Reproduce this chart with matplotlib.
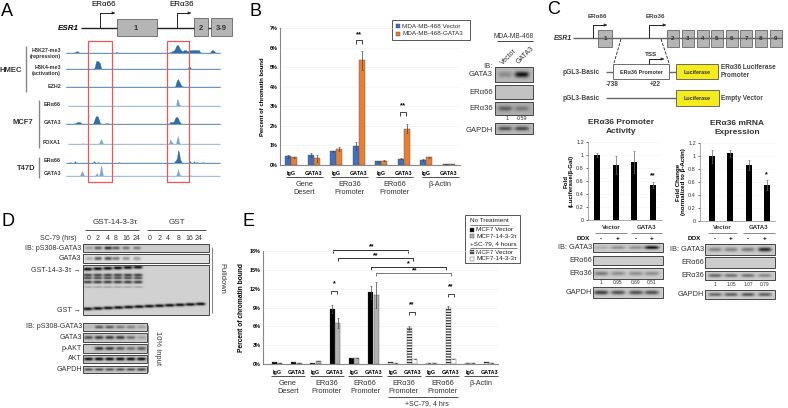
# Multi panel GATA3 / ER-alpha36 figure
import matplotlib
matplotlib.use("Agg")
import matplotlib.pyplot as plt
from matplotlib.patches import Rectangle
import numpy as np

plt.rcParams["font.family"] = ["Liberation Sans", "DejaVu Sans"]
plt.rcParams["hatch.linewidth"] = 0.9

W, H = 788, 408
BLUE, ORANGE = "#3f6fc0", "#ed7d31"
TRACK = "#2f6ea5"
DARK = "#333333"

# panel B
b_vector = [0.45, 0.53, 0.70, 0.97, 0.19, 0.32, 0.27, 0.04]
b_gata3 = [0.39, 0.34, 0.82, 5.35, 0.22, 1.85, 0.40, 0.03]
b_vector_err = [0.07, 0.10, 0.03, 0.18, 0.03, 0.03, 0.05, 0.01]
b_gata3_err = [0.03, 0.17, 0.12, 0.50, 0.03, 0.23, 0.03, 0.01]
b_groups = ["Gene\nDesert", "ER\u03b136\nPromoter", "ER\u03b166\nPromoter", "\u03b2-Actin\n"]
b_legend = ["MDA-MB-468 Vector", "MDA-MB-468-GATA3"]

# panel C bars
c1_values = [1.0, 0.85, 0.89, 0.54]
c1_err = [0.03, 0.14, 0.17, 0.05]
c2_values = [1.0, 1.04, 0.86, 0.55]
c2_err = [0.10, 0.05, 0.08, 0.08]
c1_ratio = ["1", "0.95", "0.69", "0.51"]
c2_ratio = ["1", "1.05", "1.07", "0.79"]

# panel E
e_groups = ["Gene\nDesert", "ER\u03b136\nPromoter", "ER\u03b166\nPromoter",
            "ER\u03b136\nPromoter", "ER\u03b166\nPromoter", "\u03b2-Actin\n"]
e_first = [0.25, 0.25, 0.22, 8.8, 0.9, 11.4, 0.25, 5.7, 0.22, 9.0, 0.12, 0.25]
e_second = [0.20, 0.20, 0.40, 6.5, 0.9, 11.0, 0.15, 0.75, 0.15, 0.75, 0.10, 0.20]
e_first_err = [0, 0, 0, 0.6, 0, 1.1, 0, 0.3, 0, 0.2, 0, 0]
e_second_err = [0, 0, 0, 0.8, 0, 2.0, 0, 0, 0, 0, 0, 0]
e_legend = ["MCF7 Vector", "MCF7-14-3-3\u03c4", "MCF7 Vector", "MCF7-14-3-3\u03c4"]

# panel D
d_times = ["0", "2", "4", "8", "16", "24"]
d_top = ["IB: pS308-GATA3", "GATA3"]
d_input = ["IB: pS308-GATA3", "GATA3", "p-AKT", "AKT", "GAPDH"]
d_input_darkness = [
    [0.1, 0.55, 0.55, 0.4, 0.35, 0.2],
    [0.6, 0.7, 0.7, 0.7, 0.45, 0.2],
    [0.0, 0.75, 0.7, 0.55, 0.45, 0.55],
    [0.95, 0.95, 0.95, 0.95, 0.95, 0.95],
    [0.6, 0.6, 0.6, 0.6, 0.6, 0.7],
]
d_lanes = [89, 98, 108, 116, 126, 137, 150, 160, 168, 179, 189, 199]
d_ps308 = [0.25, 0.55, 0.8, 0.55, 0.45, 0.4, 0, 0, 0, 0, 0, 0]
d_gata3 = [0.25, 0.6, 0.65, 0.45, 0.35, 0.3, 0, 0, 0, 0, 0, 0]

# panel A tracks: (pixel column, height) for the visible peaks
a_labels = ["H3K27-me3\n(repression)", "H3K4-me3\n(activation)", "EZH2",
            "ER\u03b166", "GATA3", "FOXA1", "ER\u03b166", "GATA3"]
a_label_y = [53.5, 70.5, 86, 104, 123, 143, 161, 173.5]
a_base = [53, 69, 87, 106, 124, 144, 163, 176]
a_left = [66, 66, 66, 68, 66, 68, 66, 66]
a_light = [False, False, False, True, False, True, False, True]
a_peaks = [
    [(75, 1), (76, 1.5), (77, 2), (78, 1.5), (116, 1), (117, 1), (170, 1), (171, 1), (172, 2), (173, 2),
     (174, 3), (175, 4), (176, 7), (177, 8), (178, 8), (179, 6), (180, 4), (181, 3), (182, 2), (183, 2),
     (184, 3), (185, 3), (186, 3), (187, 2), (188, 2), (189, 2), (190, 3), (191, 3), (192, 3), (193, 3),
     (194, 3), (195, 3), (196, 3), (197, 3), (198, 3), (199, 3), (200, 1), (211, 2), (212, 3), (213, 3),
     (214, 2), (215, 1)],
    [(95, 3), (96, 8), (97, 8), (98, 8), (99, 7), (100, 6), (101, 1), (188, 1), (189, 3), (190, 2)],
    [(176, 4), (177, 7), (178, 8), (179, 6), (180, 4), (181, 2), (182, 1)],
    [(177, 7), (178, 6), (179, 2), (180, 1)],
    [(75, 1), (76, 1), (77, 2), (78, 2), (79, 2), (80, 2), (81, 1), (94, 3), (95, 6), (96, 8), (97, 8), (98, 7),
     (99, 4), (100, 1), (106, 1), (107, 1), (108, 1), (170, 2), (171, 2), (172, 2), (173, 2), (174, 3),
     (175, 6), (176, 7), (177, 7), (178, 6), (179, 3), (180, 2)],
    [(83, 1), (100, 3), (101, 5), (102, 3), (170, 5), (171, 3), (172, 2), (177, 6), (178, 8), (179, 2)],
    [(70, 1), (75, 2), (94, 2), (98, 1), (119, 1), (175, 2), (176, 3), (177, 5), (178, 13), (179, 11), (180, 4),
     (181, 2), (190, 2), (194, 2), (197, 1), (203, 1)],
    [(81, 3), (82, 5), (83, 3), (96, 2), (97, 3), (100, 4), (101, 11), (102, 6), (177, 3), (178, 7), (179, 3),
     (180, 1), (190, 1)],
]


def px_ax(x0, y0, x1, y1):
    # axes placed with reference pixel box (top left origin)
    return fig.add_axes([x0 / W, 1 - y1 / H, (x1 - x0) / W, (y1 - y0) / H])


fig = plt.figure(figsize=(W / 100, H / 100), dpi=100)
bg = fig.add_axes([0, 0, 1, 1])
bg.axis("off")


def txt(x, y, s, size=5, ha="center", va="center", weight="normal", **kw):
    bg.text(x, y, s, fontsize=size, ha=ha, va=va, fontweight=weight, **kw)


def line(xs, ys, color="#555555", lw=0.8, **kw):
    bg.plot(xs, ys, color=color, lw=lw, solid_capstyle="butt", **kw)


def box(x, y, w, h, fc="#b5b5b5", ec="#666666", lw=0.6, **kw):
    bg.add_patch(Rectangle((x, y), w, h, facecolor=fc, edgecolor=ec, lw=lw, **kw))


def arrow(x, y0, y1, x1):
    line([x, x, x1], [y0, y1, y1], color="#222222", lw=0.7)
    bg.annotate("", xy=(x1 + 2, y1), xytext=(x1 - 2, y1),
                arrowprops=dict(arrowstyle="-|>", color="#222222", lw=0.5, mutation_scale=4))


def gel(x, y, w, h, bands, level=0.75):
    # soft gel strip; bands are (centre x, centre y, half width, half height, darkness)
    xx, yy = np.meshgrid(np.linspace(x, x + w, int(w * 2)), np.linspace(y, y + h, int(h * 3)))
    img = np.full(xx.shape, level, dtype=float)
    for cx, cy, hw, hh, d in bands:
        img = img - d * level * np.exp(-((xx - cx) / hw) ** 4 - ((yy - cy) / hh) ** 2)
    bg.imshow(img, extent=(x, x + w, y + h, y), cmap="gray", vmin=0, vmax=1,
              aspect="auto", interpolation="bilinear", zorder=1)
    box(x, y, w, h, fc="none", ec="#444444", lw=0.7, zorder=2)


def blot(x, y, w, h, darkness, level=0.75, lanes=None):
    n = len(darkness)
    if lanes is None:
        lanes = [x + w * (i + 0.5) / n for i in range(n)]
    hw = (lanes[1] - lanes[0]) * 0.42
    gel(x, y, w, h, [(lanes[i], y + h / 2, hw, h * 0.2, d) for i, d in enumerate(darkness)], level)


# panel letters
for letter, x, y in [("A", 7, 11), ("B", 256, 11), ("C", 554, 10), ("D", 8, 221), ("E", 249, 221)]:
    txt(x, y, letter, size=13)

# A
line([81, 117], [28, 28], color="#222222", lw=1)
line([157, 194], [28, 28], color="#222222", lw=1)
line([208, 211], [28, 28], color="#222222", lw=1)
box(117, 19, 40, 17)
box(194, 18, 14, 18)
box(211, 18, 21, 18)
txt(136, 28, "1", 5.5, weight="bold", color=DARK)
txt(201, 28, "2", 5.5, weight="bold", color=DARK)
txt(221, 28, "3-9", 5.5, weight="bold", color=DARK)
txt(68, 28, "ESR1", 5.8, style="italic", weight="bold")
arrow(100, 28, 13, 113)
arrow(177, 28, 13, 189)
txt(104, 5, "ER\u03b166", 5.8)
txt(182, 5, "ER\u03b136", 5.8)
for i, label in enumerate(a_labels):
    txt(61, a_label_y[i], label, 3.9, ha="right", weight="bold", color=DARK, linespacing=1.3)
    xs = np.arange(a_left[i], 221)
    hs = np.full(len(xs), 0.5)
    for px, ph in a_peaks[i]:
        hs[px - a_left[i]] = ph
    col = "#7fa6c9" if a_light[i] else TRACK
    bg.fill_between(xs, a_base[i], a_base[i] - hs, color=col, lw=0.2)
line([26, 26], [46, 92], color="#888888", lw=1)
line([39, 39], [100, 148], color="#888888", lw=1)
line([39, 39], [157, 178], color="#888888", lw=1)
txt(11, 71, "HMEC", 5.5, weight="bold", color=DARK)
txt(23, 123, "MCF7", 5.5, weight="bold", color=DARK)
txt(26, 168, "T47D", 5.5, weight="bold", color=DARK)
for x0, x1 in [(88, 112), (167, 189)]:
    bg.add_patch(Rectangle((x0, 41), x1 - x0, 141, fill=False, ec="#ee5555", lw=0.9))

# B bars
ax_b = px_ax(280, 28, 460, 165)
xb = np.arange(8) * 22.5 + 11
ax_b.bar(xb - 3, b_vector, 6, color=BLUE, edgecolor="#555555", lw=0.3,
         yerr=b_vector_err, error_kw=dict(lw=0.5, capsize=0.8, capthick=0.4, ecolor="#444444"))
ax_b.bar(xb + 3, b_gata3, 6, color=ORANGE, edgecolor="#555555", lw=0.3,
         yerr=b_gata3_err, error_kw=dict(lw=0.5, capsize=0.8, capthick=0.4, ecolor="#444444"))
ax_b.set_xlim(0, 180)
ax_b.set_ylim(0, 7)
ax_b.set_yticks(range(8))
ax_b.set_yticklabels([f"{v}%" for v in range(8)], fontsize=3.9, fontweight="bold")
ax_b.set_xticks(xb)
ax_b.set_xticklabels(["IgG", "GATA3"] * 4, fontsize=3.9, fontweight="bold")
ax_b.tick_params(length=0, pad=4)
ax_b.tick_params(axis="y", pad=2)
ax_b.grid(axis="y", color="#eeeeee", lw=0.4)
ax_b.set_axisbelow(True)
for s in ["top", "right"]:
    ax_b.spines[s].set_visible(False)
for s in ["left", "bottom"]:
    ax_b.spines[s].set_color("#888888")
ax_b.patch.set_alpha(0)
ax_b.set_ylabel("Percent of chromatin bound", fontsize=4.2, fontweight="bold", labelpad=3)
for i, label in enumerate(b_groups):
    x0, x1 = 286 + 45.2 * i, 323 + 45.2 * i
    line([x0, x1], [177, 177], color=DARK, lw=0.6)
    txt((x0 + x1) / 2, 188.5, label, 5.3, color=DARK, linespacing=1.25)
for cx, ytop, ystar in [(359, 40, 34), (403, 112, 105)]:
    line([cx - 3, cx - 3, cx + 3, cx + 3], [ytop + 4, ytop, ytop, ytop + 4], color="#222222", lw=0.6)
    txt(cx, ystar + 1, "**", 5.5, weight="bold")
box(392.5, 20, 77.5, 19.5, fc="white", ec="#555555", lw=0.7)
for i, label in enumerate(b_legend):
    box(396.5, 24 + 7.5 * i, 4, 4, fc=[BLUE, ORANGE][i], ec="#444444", lw=0.3)
    txt(402.5, 26 + 7.5 * i, label, 4.6, ha="left", color=DARK)
txt(514, 36, "MDA-MB-468", 4.8, color=DARK)
line([497, 533], [41, 41], color="#222222", lw=0.6)
txt(509, 57, "Vector", 5, rotation=45, color=DARK)
txt(525, 55, "GATA3", 5, rotation=45, color=DARK)
txt(493, 71, "IB:\nGATA3", 5.5, ha="right", linespacing=1.2, color=DARK)
txt(493, 93, "ER\u03b166", 5.5, ha="right", color=DARK)
txt(493, 108, "ER\u03b136", 5.5, ha="right", color=DARK)
txt(493, 130, "GAPDH", 5.5, ha="right", color=DARK)
b_lanes = [505, 522]
blot(495, 67, 38, 15, [0.25, 0.9], 0.72, b_lanes)
blot(495, 85, 38, 14, [0, 0], 0.76, b_lanes)
blot(495, 102, 38, 13, [0.45, 0.3], 0.68, b_lanes)
blot(495, 123, 38, 11, [0.55, 0.6], 0.72, b_lanes)
txt(507, 118.5, "1", 3.8, color=DARK)
txt(522, 118.5, "0.59", 3.8, color=DARK)

# C diagram
txt(563, 38, "ESR1", 5, style="italic", weight="bold", color=DARK)
line([573, 782], [38, 38], color="#666666", lw=1)
box(598, 30, 14, 17)
txt(605, 38.5, "1", 4.5, weight="bold", color=DARK)
for i, xc in enumerate([673, 688, 703, 717, 732, 746, 761, 776]):
    box(xc - 6.2, 30, 12.4, 17)
    txt(xc, 38.5, str(i + 2), 4.5, weight="bold", color=DARK)
arrow(593, 38, 25, 605)
arrow(649, 38, 25, 664)
txt(597, 17, "ER\u03b166", 4.5, weight="bold", color="#444444")
txt(655, 17, "ER\u03b136", 4.5, weight="bold", color="#444444")
line([621, 614], [39, 63], color="#222222", lw=0.6, ls="--")
line([661, 669], [39, 63], color="#222222", lw=0.6, ls="--")
txt(651, 54, "TSS", 4.5, weight="bold", color=DARK)
arrow(649, 64, 59, 662)
txt(581, 72, "pGL3-Basic", 4.8, weight="bold", color="#444444")
txt(581, 98, "pGL3-Basic", 4.8, weight="bold", color="#444444")
line([606, 613], [72, 72], color="#666666", lw=1)
box(613, 64, 56, 15, fc="white", ec="#555555")
txt(641, 72, "ER\u03b136 Promoter", 3.9, weight="bold", color=DARK)
line([669, 676], [72, 72], color="#666666", lw=1)
box(676, 64, 42, 15, fc="#f5ec1e", ec="#555555")
txt(697, 72, "Luciferase", 3.9, weight="bold", color=DARK)
line([606, 676], [98, 98], color="#666666", lw=1)
box(676, 90, 43, 16, fc="#f5ec1e", ec="#555555")
txt(697, 98, "Luciferase", 3.9, weight="bold", color=DARK)
txt(721, 71.5, "ER\u03b136 Luciferase\nPromoter", 4.7, ha="left", weight="bold", color="#444444", linespacing=1.2)
txt(721, 98, "Empty Vector", 4.7, ha="left", weight="bold", color="#444444")
txt(612, 84.5, "-738", 4.7, weight="bold", color="#444444")
txt(655, 84.5, "+22", 4.7, weight="bold", color="#444444")

# C bar charts
titles = ["ER\u03b136 Promoter\nActivity", "ER\u03b136 mRNA\nExpression"]
ylabels = ["Fold\n(Luciferase/\u03b2-Gal)", "Fold Change\n(normalized to \u03b2-Actin)"]
boxes = [(588, 142, 662, 220), (700, 143, 775, 221)]
xlims = [(-0.5, 3.5), (-0.66, 3.44)]
series = [(c1_values, c1_err), (c2_values, c2_err)]
for k in range(2):
    ax = px_ax(*boxes[k])
    ax.bar(range(4), series[k][0], 0.33, color="black",
           yerr=series[k][1], error_kw=dict(lw=0.5, capsize=0.8, capthick=0.4, ecolor="#666666"))
    ax.set_xlim(*xlims[k])
    ax.set_ylim(0, 1.2)
    ax.set_yticks([0, 0.2, 0.4, 0.6, 0.8, 1, 1.2])
    ax.set_yticklabels(["0", "0.2", "0.4", "0.6", "0.8", "1", "1.2"], fontsize=4, color=DARK)
    ax.set_xticks([])
    ax.tick_params(axis="y", length=1.5, pad=1.5, width=0.4)
    ax.grid(axis="y", color="#f2f2f2", lw=0.4)
    ax.set_axisbelow(True)
    ax.patch.set_alpha(0)
    for s in ["top", "right"]:
        ax.spines[s].set_visible(False)
    for s in ["left", "bottom"]:
        ax.spines[s].set_color("#888888")
        ax.spines[s].set_linewidth(0.5)
    ax.set_ylabel(ylabels[k], fontsize=4.4, fontweight="bold", labelpad=1.5, linespacing=1.0)
txt(621, 127, titles[0], 6, weight="bold", color=DARK, linespacing=1.25)
txt(737, 128, titles[1], 6, weight="bold", color=DARK, linespacing=1.25)
txt(653, 176, "**", 5, weight="bold")
txt(766.5, 175, "*", 5, weight="bold")
lane_sets = [[601, 618, 636, 652], [715, 731, 748, 765]]
c_blot_x = [(593, 663), (705, 775)]
c_label_x = [583, 694]
c_rule = [[(595, 627), (631, 662)], [(708, 737), (743, 775)]]
c_rows = [[(243, 9), (256, 9), (268, 11), (287, 11)], [(244, 11), (257, 11), (271, 9), (290, 9)]]
c_ratio_y = [282, 284]
c_blots = [
    [[0.15, 0.3, 0.3, 0.9], [0, 0, 0, 0], [0.4, 0.3, 0.3, 0.3], [0.7, 0.6, 0.6, 0.6]],
    [[0.35, 0.35, 0.4, 0.8], [0, 0, 0, 0], [0.5, 0.45, 0.45, 0.35], [0.5, 0.55, 0.6, 0.55]],
]
c_ratios = [c1_ratio, c2_ratio]
names = ["IB: GATA3", "ER\u03b166", "ER\u03b136", "GAPDH"]
for k in range(2):
    x0, x1 = c_blot_x[k]
    lanes = lane_sets[k]
    for name, (l0, l1) in zip(["Vector", "GATA3"], c_rule[k]):
        txt((l0 + l1) / 2, 227.5, name, 4.4, weight="bold", color=DARK)
        line([l0, l1], [232.5, 232.5], color="#888888", lw=0.7)
    txt(c_label_x[k], 239, "DOX", 4.4, weight="bold")
    for i, sign in enumerate("-+-+"):
        txt(lanes[i], 239, sign, 4.5, weight="bold")
    for j, (y, h) in enumerate(c_rows[k]):
        blot(x0, y, x1 - x0, h, c_blots[k][j], 0.8, lanes)
        txt(x0 - 1, y + h / 2, names[j], 5.3, ha="right", color=DARK)
    for i, r in enumerate(c_ratios[k]):
        txt(lanes[i], c_ratio_y[k], r, 3.5, color=DARK)

# D
txt(115, 223, "GST-14-3-3\u03c4", 5.8, color=DARK)
txt(177, 223, "GST", 5.8, color=DARK)
line([85, 139], [230, 230], color=DARK, lw=0.6)
line([147, 206], [230, 230], color=DARK, lw=0.6)
txt(77, 238, "SC-79 (hrs)", 5, ha="right", color=DARK)
for i, t in enumerate(d_times):
    txt(d_lanes[i], 238, t, 5, color=DARK)
    txt(d_lanes[i + 6], 238, t, 5, color=DARK)
blot(83, 244, 126, 8, d_ps308, 0.8, d_lanes)
blot(83, 254, 126, 9, d_gata3, 0.88, d_lanes)
txt(81, 248, d_top[0], 5.1, ha="right", color=DARK)
txt(81, 258.5, d_top[1], 5.1, ha="right", color=DARK)
txt(81, 270, "GST-14-3-3\u03c4 \u2192", 5.1, ha="right", color=DARK)
txt(81, 310, "GST \u2192", 5.1, ha="right", color=DARK)
pull_bands = []
for i in range(6):
    cx = 87.5 + 10.1 * i
    pull_bands += [(cx, 269 - i * 0.4, 4.5, 1.6, 0.95), (cx, 275, 4.5, 1.5, 0.7),
                   (cx, 278, 4.5, 1.2, 0.65), (cx, 282, 4.5, 1.5, 0.7), (cx, 287, 4.5, 0.8, 0.25)]
for i in range(12):
    pull_bands.append((87.5 + 10.3 * i, 309 - i * 0.45, 4.8, 1.5, 0.95))
gel(83, 265, 126, 50, pull_bands, 0.82)
input_y = [(323, 8), (333, 9), (344, 9), (355, 8), (366, 7)]
for j, name in enumerate(d_input):
    blot(83, input_y[j][0], 64, input_y[j][1], d_input_darkness[j], 0.78)
    txt(82, input_y[j][0] + input_y[j][1] / 2, name, 5.1, ha="right", color=DARK)
line([148.5, 148.5], [325, 372], color="#888888", lw=0.8)
txt(158, 348, "10% Input", 5.4, rotation=270, color=DARK)
line([212, 212], [247, 313], color="#888888", lw=0.8)
txt(222, 278, "Pulldown", 5.4, rotation=270, color=DARK)

# E
ax_e = px_ax(263, 251, 498, 364)
xe = 14 + np.arange(12) * 19.3
first_colors = ["black"] * 6 + ["white"] * 6
second_colors = ["#b0b0b0"] * 6 + ["white"] * 6
ax_e.bar(xe - 2.7, e_first, 5, color=first_colors, edgecolor="#444444", lw=0.2,
         yerr=e_first_err, error_kw=dict(lw=0.5, capsize=0.8, capthick=0.4, ecolor="#444444"))
ax_e.bar(xe + 2.7, e_second, 5, color=second_colors, edgecolor="#555555", lw=0.3,
         yerr=e_second_err, error_kw=dict(lw=0.5, capsize=0.8, capthick=0.4, ecolor="#444444"))
for p in ax_e.patches[6:12]:
    p.set_hatch("------")
    p.set_edgecolor("#333333")
ax_e.set_xlim(0, 235)
ax_e.set_ylim(0, 18)
ax_e.set_yticks([0, 3, 6, 9, 12, 15, 18])
ax_e.set_yticklabels([f"{v}%" for v in [0, 3, 6, 9, 12, 15, 18]], fontsize=3.9, fontweight="bold")
ax_e.set_xticks(xe)
ax_e.set_xticklabels(["IgG", "GATA3"] * 6, fontsize=3.9, fontweight="bold")
ax_e.tick_params(length=0, pad=4)
ax_e.tick_params(axis="y", pad=2)
ax_e.grid(axis="y", color="#eeeeee", lw=0.4)
ax_e.set_axisbelow(True)
ax_e.patch.set_alpha(0)
for s in ["top", "right"]:
    ax_e.spines[s].set_visible(False)
for s in ["left", "bottom"]:
    ax_e.spines[s].set_color("#888888")
ax_e.set_ylabel("Percent of chromatin bound", fontsize=4.8, fontweight="bold", labelpad=3)
for i, label in enumerate(e_groups):
    x0, x1 = 271 + 38.6 * i, 305 + 38.6 * i
    line([x0, x1], [376, 376], color=DARK, lw=0.6)
    txt((x0 + x1) / 2, 387.5, label, 5.3, color=DARK, linespacing=1.25)
line([388, 458], [397, 397], color=DARK, lw=0.6)
txt(427, 403.5, "+SC-79, 4 hrs", 5, color=DARK)
for x0, x1, y, col, sx, sy, star in [(333, 408, 250, DARK, 372, 247, "**"), (338, 413, 258, DARK, 376, 256, "**"),
                                     (371, 446, 267, DARK, 408, 264, "*"), (376, 451, 273, "#777777", 415, 271, "**")]:
    line([x0, x0, x1, x1], [y + 3, y, y, y + 3], color=col, lw=0.7)
    txt(sx, sy, star, 5, weight="bold")
for cx, y, sy, star in [(334, 291, 284, "*"), (412, 312, 305, "**"), (451, 294, 287, "**")]:
    line([cx - 3, cx - 3, cx + 3, cx + 3], [y + 3, y, y, y + 3], color="#222222", lw=0.6)
    txt(cx, sy, star, 5, weight="bold")
box(465, 215, 55, 48, fc="white", ec="#555555", lw=0.7)
txt(470, 221, "No Treatment", 4.6, ha="left", color="#222222")
line([470, 509], [224.5, 224.5], color="#222222", lw=0.4)
txt(470, 244, "+SC-79, 4 hours", 4.6, ha="left", color="#222222")
line([470, 517], [247.5, 247.5], color="#222222", lw=0.4)
legend_y = [229.5, 236, 252, 259]
legend_fc = ["black", "#b0b0b0", "#555555", "white"]
for i, label in enumerate(e_legend):
    box(470, legend_y[i] - 2, 4, 4, fc=legend_fc[i], ec="#444444", lw=0.3)
    txt(476.5, legend_y[i], label, 4.6, ha="left", color="#222222")

bg.set_xlim(0, W)
bg.set_ylim(H, 0)
fig.savefig("out.png", dpi=100)
